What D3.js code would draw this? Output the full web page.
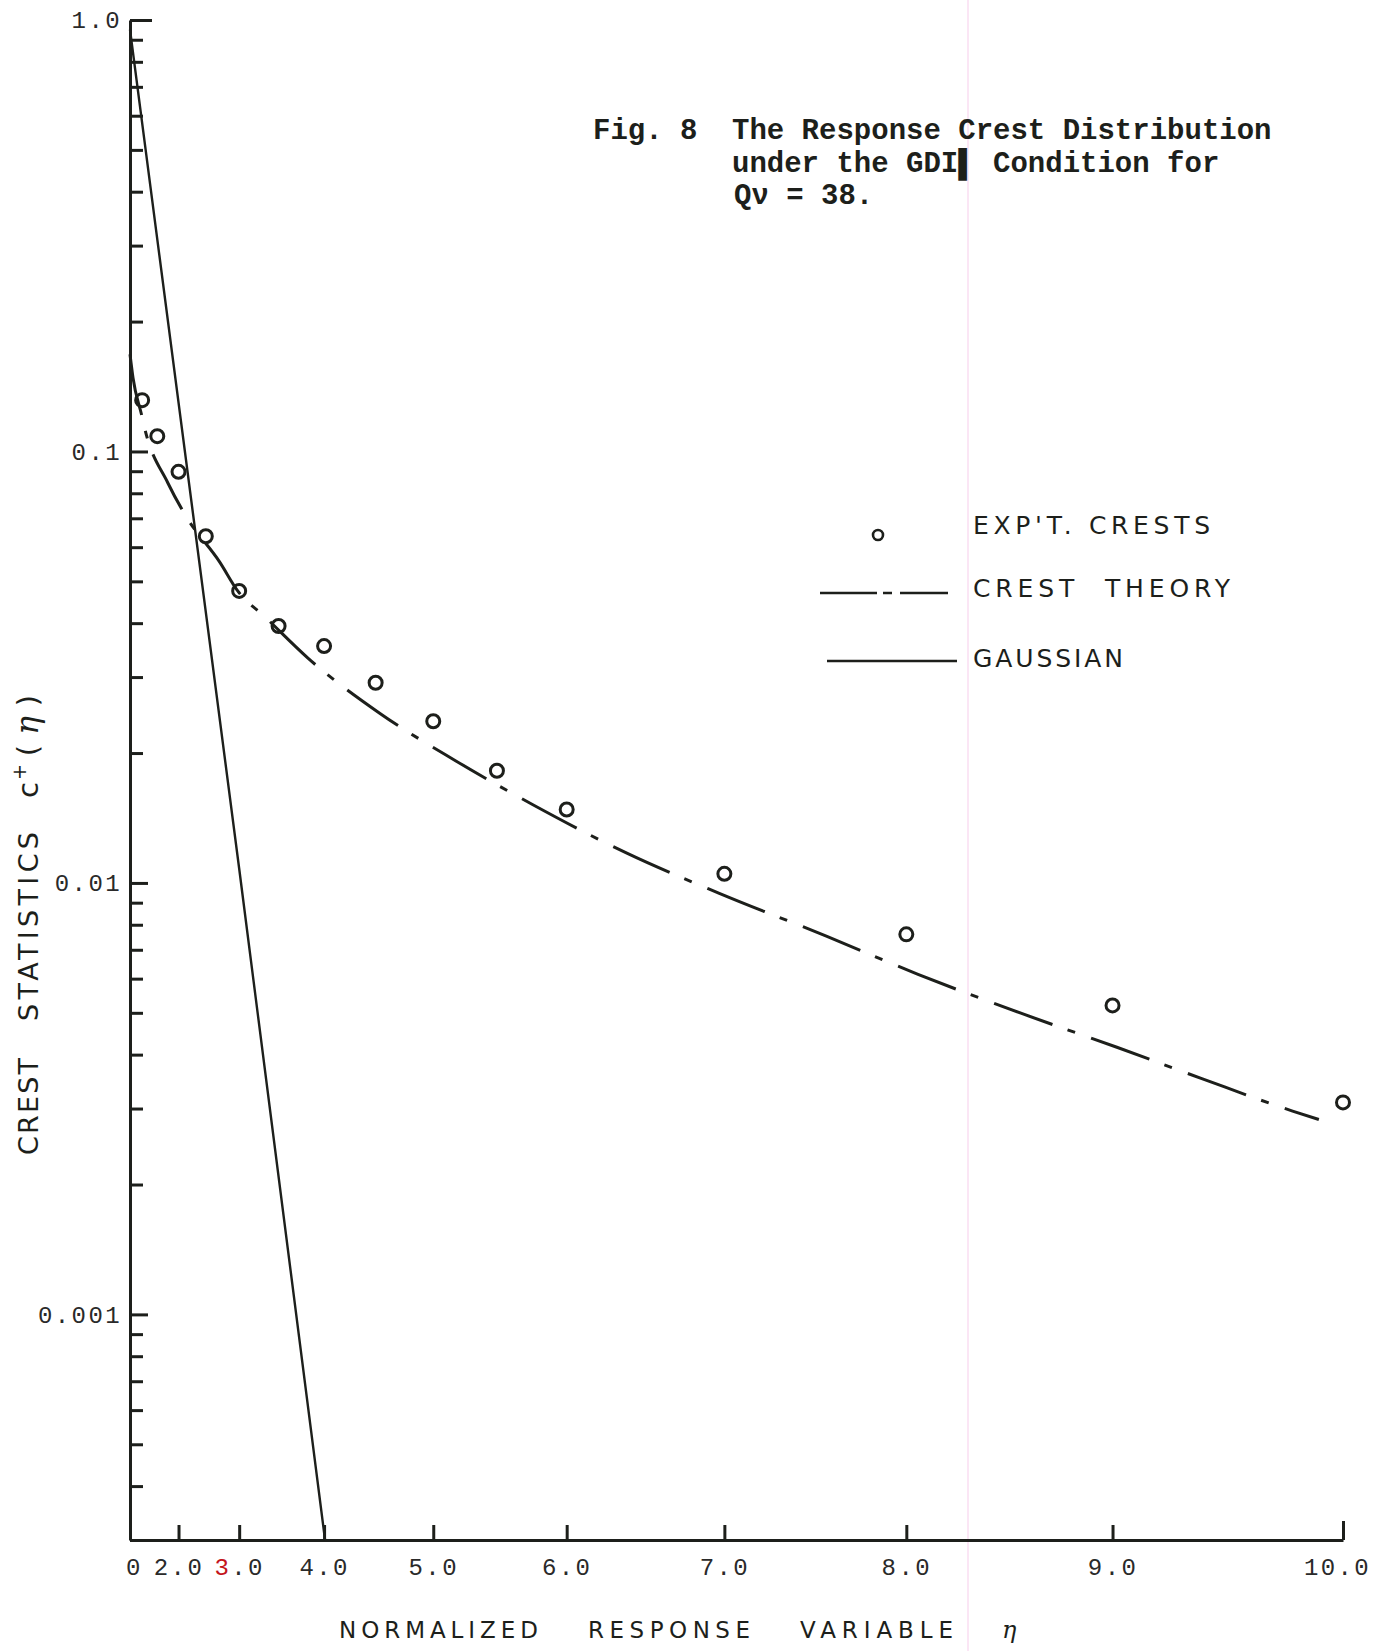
<!DOCTYPE html>
<html>
<head>
<meta charset="utf-8">
<script src="https://cdn.jsdelivr.net/npm/d3@7"></script>
<style>
    body { margin: 0; background: #fff; }
    svg { display: block; }
    .axis path, .axis line { stroke: #1d1f1b; stroke-width: 3; }
    .axis text { font-family: "Liberation Mono", monospace; font-size: 24px; fill: #2a2a2a; letter-spacing: 2.4px; }
    .letter { font-family: "DejaVu Sans", sans-serif; fill: #1d1f1b; }
    .title { font-family: "Liberation Mono", monospace; font-weight: bold; font-size: 29px; fill: #1d1f1b; }
</style>
</head>
<body>
<div id="chart-area"></div>
<script>

// axis ticks
const etaTicks = [0, 2, 3, 4, 5, 6, 7, 8, 9, 10];
const etaTickLabels = ["0", "2.0", "3.0", "4.0", "5.0", "6.0", "7.0", "8.0", "9.0", "10.0"];
const crestTicks = [1, 0.1, 0.01, 0.001];
const crestTickLabels = ["1.0", "0.1", "0.01", "0.001"];

// experimental crests (circles)
const expEta = [1.0, 1.5, 2.0, 2.5, 3.0, 3.5, 4.0, 4.5, 5.0, 5.5, 6.0, 7.0, 8.0, 9.0, 10.0];
const expCrest = [0.1315, 0.1085, 0.0897, 0.0636, 0.0475, 0.0394, 0.0354, 0.0291, 0.0237, 0.0182, 0.0148, 0.0105, 0.0076, 0.0052, 0.0031];

// crest theory (dash-dot curve)
const theoryEta = [0, 0.5, 0.98, 1.09, 1.77, 2.16, 2.72, 2.98, 3.34, 3.83, 4.54, 5.18, 5.76, 6.40, 6.97, 7.58, 8.06, 8.57, 9.02, 9.40, 9.79, 9.90];
const theoryCrest = [0.168, 0.148, 0.1214, 0.1138, 0.0844, 0.0704, 0.0554, 0.0475, 0.0413, 0.0332, 0.0247, 0.0192, 0.0152, 0.01172, 0.00946, 0.00752, 0.00614, 0.00499, 0.00416, 0.00352, 0.00296, 0.00283];

// gaussian (solid line)
const gaussEta = [0, 3.0, 4.01];
const gaussCrest = [0.95, 0.0108, 0.0003];


class CrestChart {

    constructor(parentElement) {
        this.parentElement = parentElement;
    }

    initVis() {
        let vis = this;

        vis.width = 1390;
        vis.height = 1651;

        vis.svg = d3.select("#" + vis.parentElement).append("svg")
            .attr("width", vis.width)
            .attr("height", vis.height);

        // faint pink scan streak
        vis.svg.append("line")
            .attr("x1", 968).attr("x2", 968)
            .attr("y1", 0).attr("y2", vis.height)
            .attr("stroke", "#fbe6f5")
            .attr("stroke-width", 2);

        // eta axis is squared, crest axis is log
        vis.x = d3.scalePow().exponent(2)
            .domain([0, 10])
            .range([130, 1343]);
        vis.y = d3.scaleLog()
            .domain([0.0003, 1])
            .range([1540, 20]);

        vis.wrangleData();
    }

    wrangleData() {
        let vis = this;

        vis.expData = expEta.map((e, i) => ({eta: e, c: expCrest[i]}));
        vis.theoryData = theoryEta.map((e, i) => ({eta: e, c: theoryCrest[i]}));
        vis.gaussData = gaussEta.map((e, i) => ({eta: e, c: gaussCrest[i]}));

        vis.minorTicks = [];
        [1, 0.1, 0.01, 0.001].forEach(dec => {
            for (let k = 2; k <= 9; k++) {
                let v = dec * k / 10;
                if (v >= 0.0003) vis.minorTicks.push(v);
            }
        });

        vis.updateVis();
    }

    updateVis() {
        let vis = this;

        // Axes
        let xAxis = d3.axisBottom(vis.x)
            .tickValues(etaTicks)
            .tickSize(-15)
            .tickSizeOuter(0)
            .tickPadding(18)
            .tickFormat((d, i) => etaTickLabels[i]);
        let xg = vis.svg.append("g")
            .attr("class", "axis x-axis")
            .attr("transform", "translate(0,1540)")
            .call(xAxis);
        xg.selectAll(".tick")
            .filter(d => d === 10)
            .select("line").attr("y2", -19);
        xg.selectAll(".tick")
            .filter(d => d === 10)
            .select("text").attr("dx", -6);
        xg.selectAll(".tick")
            .filter(d => d === 0)
            .select("text").attr("dx", 4);
        xg.selectAll(".tick")
            .filter(d => d === 3)
            .select("text").text(null)
            .call(t => {
                t.append("tspan").attr("fill", "#c4141b").text("3");
                t.append("tspan").text(".0");
            });

        let yMinor = d3.axisLeft(vis.y)
            .tickValues(vis.minorTicks)
            .tickSize(-13)
            .tickSizeOuter(0)
            .tickFormat("");
        vis.svg.append("g")
            .attr("class", "axis y-minor")
            .attr("transform", "translate(130,0)")
            .call(yMinor)
            .select(".domain").remove();

        let yAxis = d3.axisLeft(vis.y)
            .tickValues(crestTicks)
            .tickSize(-18)
            .tickSizeOuter(0)
            .tickPadding(8)
            .tickFormat((d, i) => crestTickLabels[i]);
        let yg = vis.svg.append("g")
            .attr("class", "axis y-axis")
            .attr("transform", "translate(130,0)")
            .call(yAxis);
        yg.selectAll(".tick")
            .filter(d => d === 1)
            .select("line").attr("x2", 22);

        // Lines
        let line = d3.line()
            .x(d => vis.x(d.eta))
            .y(d => vis.y(d.c));

        vis.svg.append("path")
            .datum(vis.gaussData)
            .attr("fill", "none")
            .attr("stroke", "#1d1f1b")
            .attr("stroke-width", 2.4)
            .attr("d", line);

        vis.svg.append("path")
            .datum(vis.theoryData)
            .attr("fill", "none")
            .attr("stroke", "#1d1f1b")
            .attr("stroke-width", 3)
            .attr("stroke-dasharray", "62,16,8,17")
            .attr("d", line.curve(d3.curveMonotoneX));

        vis.svg.selectAll(".crest")
            .data(vis.expData)
            .enter().append("circle")
            .attr("class", "crest")
            .attr("cx", d => vis.x(d.eta))
            .attr("cy", d => vis.y(d.c))
            .attr("r", 6.5)
            .attr("fill", "none")
            .attr("stroke", "#1d1f1b")
            .attr("stroke-width", 3);

        // Legend
        let legend = vis.svg.append("g");
        legend.append("circle")
            .attr("cx", 878).attr("cy", 535).attr("r", 5)
            .attr("fill", "none").attr("stroke", "#1d1f1b").attr("stroke-width", 2.6);
        legend.append("line")
            .attr("x1", 820).attr("x2", 948).attr("y1", 593).attr("y2", 593)
            .attr("stroke", "#1d1f1b").attr("stroke-width", 2.5)
            .attr("stroke-dasharray", "57,6,9,8,48");
        legend.append("line")
            .attr("x1", 827).attr("x2", 957).attr("y1", 661).attr("y2", 661)
            .attr("stroke", "#1d1f1b").attr("stroke-width", 2.3);
        [["EXP'T. CRESTS", 534, 237], ["CREST  THEORY", 597, 257], ["GAUSSIAN", 667, 150]].forEach(l => {
            legend.append("text")
                .attr("class", "letter")
                .attr("x", 973).attr("y", l[1])
                .attr("font-size", 25)
                .attr("textLength", l[2])
                .attr("lengthAdjust", "spacing")
                .style("white-space", "pre")
                .text(l[0]);
        });

        // Axis titles
        [["NORMALIZED", 339, 199], ["RESPONSE", 588, 162], ["VARIABLE", 800, 153]].forEach(l => {
            vis.svg.append("text")
                .attr("class", "letter")
                .attr("x", l[1]).attr("y", 1638)
                .attr("font-size", 23)
                .attr("textLength", l[2])
                .attr("lengthAdjust", "spacing")
                .text(l[0]);
        });
        vis.svg.append("text")
            .attr("x", 1002).attr("y", 1638)
            .attr("font-family", "DejaVu Serif, serif")
            .attr("font-style", "italic")
            .attr("font-size", 24)
            .attr("fill", "#1d1f1b")
            .text("η");

        let yTitle = vis.svg.append("g")
            .attr("transform", "translate(38,1155) rotate(-90)");
        [["CREST", 0, 97], ["STATISTICS", 134, 189]].forEach(l => {
            yTitle.append("text")
                .attr("class", "letter")
                .attr("x", l[1]).attr("y", 0)
                .attr("font-size", 27)
                .attr("textLength", l[2])
                .attr("lengthAdjust", "spacing")
                .text(l[0]);
        });
        let cText = yTitle.append("text")
            .attr("class", "letter")
            .attr("x", 357).attr("y", 0)
            .attr("font-size", 29)
            .style("letter-spacing", "10px");
        cText.append("tspan").text("c");
        cText.append("tspan").attr("font-size", 19).attr("dy", -12).attr("dx", -8).text("+");
        cText.append("tspan").attr("dy", 12).attr("dx", -2).text("(");
        cText.append("tspan").attr("font-family", "DejaVu Serif, serif").attr("font-style", "italic").attr("font-size", 31).text("η");
        cText.append("tspan").text(")");

        // Figure caption
        let cap = vis.svg.append("text").attr("class", "title");
        cap.append("tspan").attr("x", 593).attr("y", 139).text("Fig. 8");
        cap.append("tspan").attr("x", 732).attr("y", 139).text("The Response Crest Distribution");
        cap.append("tspan").attr("x", 732).attr("y", 172).text("under the GDI\u258C Condition for");
        cap.append("tspan").attr("x", 734).attr("y", 204).text("Q\u03BD = 38.");
    }
}

let chart = new CrestChart("chart-area");
chart.initVis();

</script>
</body>
</html>
